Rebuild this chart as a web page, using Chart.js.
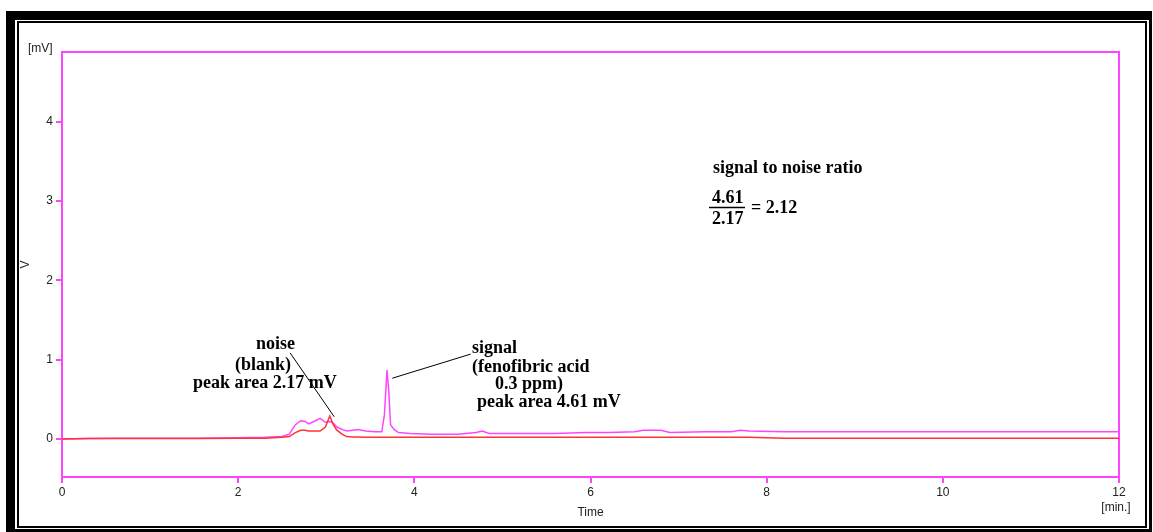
<!DOCTYPE html>
<html>
<head>
<meta charset="utf-8">
<script src="https://cdn.jsdelivr.net/npm/chart.js@4.4.0/dist/chart.umd.min.js"></script>
<style>
  html, body { margin: 0; padding: 0; background: #fff; }
  #wrap { position: relative; width: 1153px; height: 532px; }
</style>
</head>
<body>
<div id="wrap"><canvas id="chart"></canvas></div>
<script>
// --- DATA: retention time (min) and detector signal (mV) ---
const times = [0, 0.3, 0.6, 1.0, 1.5, 2.0, 2.3, 2.5, 2.58, 2.65, 2.71, 2.76, 2.80, 2.86, 2.93, 2.99,
  3.04, 3.08, 3.12, 3.18, 3.23, 3.30, 3.36, 3.45, 3.55, 3.63, 3.66, 3.69, 3.71, 3.73, 3.77, 3.82,
  3.95, 4.2, 4.5, 4.7, 4.77, 4.85, 5.2, 5.6, 5.95, 6.2, 6.5, 6.6, 6.8, 6.9, 7.3, 7.6, 7.7, 7.8,
  8.2, 9, 10, 11, 12];

// blank (red trace)
const blankMv = [0, 0.005, 0.005, 0.005, 0.005, 0.01, 0.01, 0.02, 0.03, 0.08, 0.11, 0.11, 0.10, 0.10, 0.10, 0.15,
  0.29, 0.18, 0.11, 0.06, 0.03, 0.025, 0.025, 0.02, 0.02, 0.02, 0.02, 0.02, 0.02, 0.02, 0.02, 0.02,
  0.02, 0.02, 0.02, 0.02, 0.02, 0.02, 0.02, 0.02, 0.02, 0.02, 0.02, 0.02, 0.02, 0.02, 0.02, 0.02, 0.02, 0.02,
  0.01, 0.01, 0.01, 0.01, 0.01];

// fenofibric acid 0.3 ppm (magenta trace)
const sampleMv = [0, 0.005, 0.01, 0.01, 0.01, 0.015, 0.02, 0.03, 0.06, 0.18, 0.23, 0.22, 0.19, 0.22, 0.26, 0.21,
  0.22, 0.2, 0.15, 0.12, 0.10, 0.11, 0.12, 0.10, 0.09, 0.09, 0.3, 0.87, 0.6, 0.18, 0.12, 0.08,
  0.07, 0.06, 0.06, 0.08, 0.1, 0.07, 0.07, 0.07, 0.08, 0.08, 0.09, 0.11, 0.11, 0.08, 0.09, 0.09, 0.11, 0.1,
  0.09, 0.09, 0.09, 0.09, 0.09];

const xTicks = [0, 2, 4, 6, 8, 10, 12];
const yTicks = [0, 1, 2, 3, 4];

const MAGENTA = '#ff44ff';
const RED = '#ff3333';

// --- window frame + plot border ---
const framePlugin = {
  id: 'frame',
  beforeDraw(chart) {
    const ctx = chart.ctx;
    ctx.save();
    ctx.fillStyle = '#000';
    ctx.fillRect(6, 11, 1146, 521);
    ctx.fillStyle = '#fff';
    ctx.fillRect(15, 20, 1134, 509);
    ctx.strokeStyle = '#000';
    ctx.lineWidth = 2;
    ctx.strokeRect(18, 22, 1128, 505);
    ctx.restore();
  },
  beforeDatasetsDraw(chart) {
    const { ctx, chartArea: a } = chart;
    ctx.save();
    ctx.strokeStyle = MAGENTA;
    ctx.lineWidth = 2;
    ctx.strokeRect(a.left, a.top, a.right - a.left, a.bottom - a.top);
    ctx.restore();
  }
};

// --- annotations (units, labels, leader lines) ---
const notesPlugin = {
  id: 'notes',
  afterDatasetsDraw(chart) {
    const ctx = chart.ctx;
    const sx = chart.scales.x, sy = chart.scales.y;
    const px = t => sx.getPixelForValue(t);
    const py = v => sy.getPixelForValue(v);
    ctx.save();

    // units
    ctx.fillStyle = '#222';
    ctx.font = '12px "Liberation Sans", Arial, sans-serif';
    ctx.textBaseline = 'middle';
    ctx.textAlign = 'left';
    ctx.fillText('[mV]', 28, 49);
    ctx.textAlign = 'center';
    ctx.fillText('[min.]', 1116, 508);

    // leader lines
    ctx.strokeStyle = '#000';
    ctx.lineWidth = 1;
    ctx.beginPath();
    ctx.moveTo(px(2.59), py(1.085));
    ctx.lineTo(px(3.09), py(0.28));
    ctx.moveTo(px(3.75), py(0.766));
    ctx.lineTo(px(4.64), py(1.07));
    ctx.stroke();

    // text
    ctx.fillStyle = '#000';
    ctx.font = 'bold 18px "Liberation Serif", "Times New Roman", serif';
    ctx.textAlign = 'left';
    ctx.textBaseline = 'middle';
    ctx.fillText('noise', 256, 344);
    ctx.fillText('(blank)', 235, 365);
    ctx.fillText('peak area 2.17 mV', 193, 383);
    ctx.fillText('signal', 472, 348);
    ctx.fillText('(fenofibric acid', 472, 367);
    ctx.fillText('0.3 ppm)', 495, 384);
    ctx.fillText('peak area 4.61 mV', 477, 402);

    ctx.fillText('signal to noise ratio', 713, 168);
    ctx.fillText('4.61', 712, 198);
    ctx.fillText('2.17', 712, 219);
    ctx.fillText('= 2.12', 751, 208);
    ctx.lineWidth = 1.5;
    ctx.beginPath();
    ctx.moveTo(709, 207.5);
    ctx.lineTo(745, 207.5);
    ctx.stroke();

    ctx.restore();
  }
};

const tickFont = { family: '"Liberation Sans", Arial, sans-serif', size: 12 };

new Chart(document.getElementById('chart'), {
  type: 'line',
  data: {
    datasets: [
      {
        label: 'blank',
        data: times.map((t, i) => ({ x: t, y: blankMv[i] })),
        borderColor: RED,
        borderWidth: 1.5,
        pointRadius: 0,
        tension: 0
      },
      {
        label: 'fenofibric acid 0.3 ppm',
        data: times.map((t, i) => ({ x: t, y: sampleMv[i] })),
        borderColor: MAGENTA,
        borderWidth: 1.5,
        pointRadius: 0,
        tension: 0
      }
    ]
  },
  options: {
    responsive: true,
    maintainAspectRatio: false,
    animation: false,
    layout: { padding: { left: 0, top: 52, right: 34, bottom: 0 } },
    plugins: { legend: { display: false }, tooltip: { enabled: false } },
    scales: {
      x: {
        type: 'linear',
        min: 0,
        max: 12,
        afterBuildTicks: s => { s.ticks = xTicks.map(v => ({ value: v })); },
        afterFit: s => { s.height = 55; },
        border: { display: false },
        grid: { drawOnChartArea: false, drawTicks: true, tickLength: 6, color: MAGENTA, lineWidth: 2 },
        ticks: { color: '#222', font: tickFont, padding: 2, maxRotation: 0 },
        title: { display: true, text: 'Time', color: '#222', font: tickFont, padding: { top: 0, bottom: 12 } }
      },
      y: {
        type: 'linear',
        min: -0.48,
        max: 4.88,
        afterBuildTicks: s => { s.ticks = yTicks.map(v => ({ value: v })); },
        afterFit: s => { s.width = 62; },
        border: { display: false },
        grid: { drawOnChartArea: false, drawTicks: true, tickLength: 6, color: MAGENTA, lineWidth: 2 },
        ticks: { color: '#222', font: tickFont, padding: 3 },
        title: { display: true, text: 'V', color: '#222', font: tickFont, padding: { top: 18, bottom: 0 } }
      }
    }
  },
  plugins: [framePlugin, notesPlugin]
});
</script>
</body>
</html>
